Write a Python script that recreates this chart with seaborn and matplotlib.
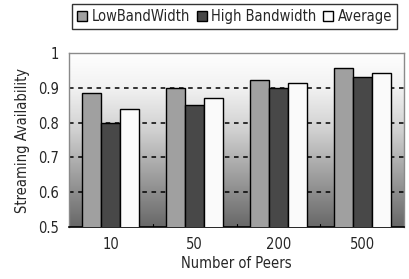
import numpy as np
import pandas as pd
import matplotlib
matplotlib.use("Agg")
import matplotlib.pyplot as plt
from matplotlib.colors import LinearSegmentedColormap
import seaborn as sns

peers = ["10", "50", "200", "500"]
low_bw = [0.884, 0.899, 0.923, 0.956]
high_bw = [0.800, 0.851, 0.899, 0.931]
average = [0.838, 0.871, 0.913, 0.944]
series = ["LowBandWidth", "High Bandwidth", "Average"]
colors = ["#a0a0a0", "#484848", "#fafafa"]

df = pd.DataFrame({
    "peers": peers * 3,
    "value": low_bw + high_bw + average,
    "series": [s for s in series for _ in peers],
})

sns.set_style("white")
plt.rcParams["font.family"] = ["DejaVu Sans"]
plt.rcParams["font.stretch"] = "condensed"

fig = plt.figure(figsize=(4.1, 2.79), dpi=100)
ax = fig.add_axes([0.168, 0.186, 0.818, 0.624])

# gradient background
cmap = LinearSegmentedColormap.from_list(
    "bg", [(0, "#ffffff"), (0.2, "#f2f2f2"), (0.45, "#d0d0d0"), (0.7, "#a0a0a0"), (1, "#686868")])
grad = np.linspace(0, 1, 256).reshape(-1, 1)
ax.imshow(grad, cmap=cmap, aspect="auto", extent=(-0.5, 3.5, 0.5, 1.0),
          origin="upper", zorder=0)

sns.barplot(data=df, x="peers", y="value", hue="series", palette=colors,
            width=0.68, edgecolor="black", linewidth=1.0, saturation=1,
            ax=ax, zorder=3)

ax.set_xlim(-0.5, 3.5)
ax.set_ylim(0.5, 1.0)
ax.set_yticks([0.5, 0.6, 0.7, 0.8, 0.9, 1.0])
ax.set_yticklabels(["0.5", "0.6", "0.7", "0.8", "0.9", "1"])
for y in [0.6, 0.7, 0.8, 0.9]:
    ax.axhline(y, color="black", linestyle=(0, (3, 3)), linewidth=1.1, zorder=2)

ax.tick_params(axis="both", labelsize=10.5, length=0, pad=7)
ax.set_xticks([0, 1, 2, 3])
ax.set_xticklabels(peers)
for xb in [0.5, 1.5, 2.5]:
    ax.plot([xb, xb], [0.5, 0.51], color="black", linewidth=0.8, zorder=4)

for side in ["top", "right", "left"]:
    ax.spines[side].set_color("#8a8a8a")
    ax.spines[side].set_linewidth(1.0)
ax.spines["bottom"].set_color("black")
ax.spines["bottom"].set_linewidth(1.2)

ax.set_xlabel("Number of Peers", fontsize=10.5, labelpad=3)
ax.set_ylabel("Streaming Availability", fontsize=10.5, labelpad=6)

leg = ax.legend(loc="center", bbox_to_anchor=(0.572, 0.941),
                bbox_transform=fig.transFigure, ncol=3, fontsize=10.5,
                frameon=True, fancybox=False, edgecolor="black",
                handlelength=0.7, handleheight=0.7, handletextpad=0.3,
                columnspacing=0.45, borderpad=0.35)
leg.get_frame().set_linewidth(1.0)

fig.savefig("out.png", dpi=100)
